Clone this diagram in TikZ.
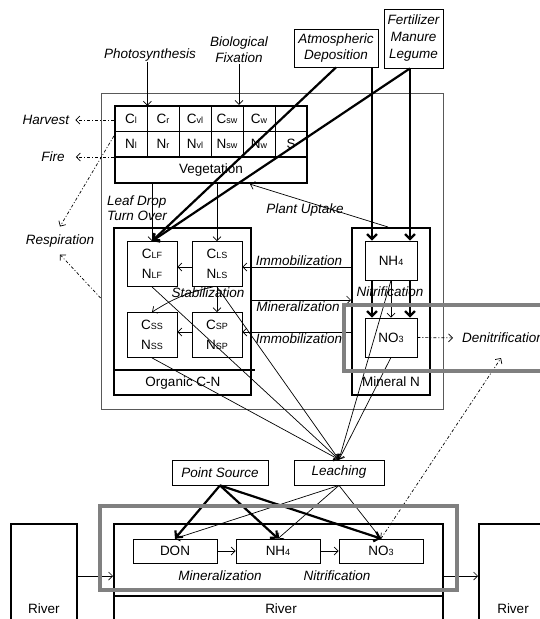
\documentclass[tikz,border=0pt]{standalone}
\usepackage{fontspec}
\setmainfont{Liberation Sans}
\usetikzlibrary{arrows.meta}
\newcommand{\lo}[1]{{\fontsize{9}{9}\selectfont #1}}

\begin{document}
\begin{tikzpicture}[x=1pt,y=-1pt,
  every node/.style={font=\fontsize{13.5}{16}\selectfont},
  txt/.style={font=\fontsize{13.5}{16}\selectfont\itshape,align=center,inner sep=1pt},
  fine/.style={line width=0.7pt},
  arr/.style={fine,-{Straight Barb[length=4pt,width=8pt]}},
  heavy/.style={line width=2.2pt,-{Straight Barb[length=5pt,width=10pt]}},
  dd/.style={line width=0.7pt,dash pattern=on 3pt off 2pt on 1pt off 2pt,-{Straight Barb[length=4pt,width=8pt]}},
  box/.style={draw,line width=0.8pt,fill=white,inner sep=0pt},
  nbox/.style={box,minimum width=50pt,minimum height=45pt,align=center},
  bigbox/.style={draw,line width=2pt,inner sep=0pt},
  cell/.style={draw,line width=0.7pt,minimum width=32pt,minimum height=25.5pt,inner sep=0pt},
  greybox/.style={draw=black!50,line width=3.5pt}]
  \useasboundingbox (0,0) rectangle (540,619);

  % land part
  \node[draw=black!65,line width=0.8pt,minimum width=342pt,minimum height=316pt] (land) at (272,251) {};

  % inputs
  \node[txt] (photo) at (150,55) {Photosynthesis};
  \node[txt] (bio) at (239,50) {Biological\\Fixation};
  \node[box,txt,minimum width=84pt,minimum height=38pt] (atmos) at (336,48) {Atmospheric\\Deposition};
  \node[box,txt,font=\fontsize{13.5}{17}\selectfont\itshape,minimum width=59pt,minimum height=59pt] (fert) at (413.5,38.5) {Fertilizer\\Manure\\Legume};

  % vegetation
  \foreach \t [count=\i] in {C\lo{l},C\lo{r},C\lo{vl},C\lo{sw},C\lo{w},{}}
    \node[cell] (c\i) at (99+32*\i,118.75) {\t};
  \foreach \t [count=\i] in {N\lo{l},N\lo{r},N\lo{vl},N\lo{sw},N\lo{w},S}
    \node[cell] (n\i) at (99+32*\i,144.25) {\t};
  \node[draw,line width=2.2pt,minimum width=192pt,minimum height=77pt] (veg) at (211,144.5) {};
  \draw[line width=2.2pt] (veg.west |- 0,157) -- (veg.east |- 0,157);
  \node (vegl) at (211,170) {Vegetation};
  \draw[arr] (photo.south -| c1.east) -- (c1.north east);
  \draw[arr] (bio.south) -- (bio.south |- veg.north);

  % losses
  \node[txt] (harv) at (46,120) {Harvest};
  \node[txt] (fire) at (53,157) {Fire};
  \node[txt] (resp) at (60,241) {Respiration};
  \draw[dd,shorten >=5pt] (veg.west |- harv) -- (harv.east);
  \draw[dd,shorten >=10pt] (veg.west |- fire) -- (fire.east);
  \draw[dd] (veg.west |- 0,136) -- ([yshift=7pt]resp.north);
  \draw[dd] (land.west |- 0,298) -- ([yshift=-6pt]resp.south);

  % organic C-N
  \node[bigbox,minimum width=137pt,minimum height=167pt] (org) at (182.5,311.5) {};
  \draw[line width=2pt] (org.west |- 0,370) -- (255,370);
  \node (orgl) at (183,383) {Organic C-N};
  \node[nbox] (clf) at (152,264) {C\lo{LF}\\[4pt]N\lo{LF}};
  \node[nbox] (cls) at (217,264) {C\lo{LS}\\[4pt]N\lo{LS}};
  \node[nbox] (css) at (152,335) {C\lo{SS}\\[4pt]N\lo{SS}};
  \node[nbox] (csp) at (217,335) {C\lo{SP}\\[4pt]N\lo{SP}};
  \node[txt,align=left,anchor=west,font=\fontsize{13.5}{15}\selectfont\itshape] (leaf) at (106,208) {Leaf Drop\\Turn Over};
  \draw[arr] (veg.south -| clf.north) -- (clf.north);
  \draw[arr] (veg.south -| cls.north) -- (cls.north);
  \node[txt] (stab) at (208,293) {Stabilization};
  \draw[arr] (cls.south) -- (csp.north);
  \draw[arr] ([xshift=-4pt]cls.south) to[bend right=10] (css.north);

  % mineral N
  \node[bigbox,minimum width=78pt,minimum height=167pt] (mine) at (391,311.5) {};
  \node[box,minimum width=52pt,minimum height=39pt] (nh4) at (391,260.5) {NH\lo{4}};
  \node[box,minimum width=52pt,minimum height=39pt] (no3) at (391,337.5) {NO\lo{3}};
  \node (minl) at (391,382) {Mineral N};
  \node[txt] (nitr) at (390,292) {Nitrification};
  \draw[arr] (nh4.south) -- (no3.north);

  % deposition and fertilizer
  \coordinate (av) at ([xshift=36pt]atmos.south);
  \coordinate (fv) at ([xshift=-3.5pt]fert.south);
  \draw[heavy] (atmos.south) -- (clf.north);
  \draw[heavy] (fv) -- (clf.north);
  \foreach \s in {av,fv} {
    \draw[heavy] (\s) -- (\s |- nh4.north);
    \draw[heavy] (\s |- nh4.south) -- (\s |- no3.north);
  }

  % exchanges
  \draw[arr] ([xshift=-3pt]mine.north) -- ([xshift=39pt]veg.south);
  \node[txt] (upt) at (305,210) {Plant Uptake};
  \draw[arr] (mine.west |- 0,267) -- (cls.east |- 0,267);
  \draw[arr] (cls.west |- 0,267) -- (clf.east |- 0,267);
  \node[txt] (imm1) at (299,261) {Immobilization};
  \draw[arr] (org.east |- 0,300) -- (mine.west |- 0,300);
  \node[txt] (minz) at (298,307) {Mineralization};
  \draw[arr] (mine.west |- 0,332) -- (csp.east |- 0,332);
  \draw[arr] (csp.west |- 0,332) -- (css.east |- 0,332);
  \node[txt] (imm2) at (299,339) {Immobilization};

  % leaching and point source
  \node[box,txt,minimum width=90pt,minimum height=25pt] (leach) at (339,472.5) {Leaching};
  \node[box,txt,minimum width=96pt,minimum height=25pt] (psrc) at (220,472.5) {Point Source};
  \foreach \s in {clf,cls,css,nh4,no3}
    \draw[arr] (\s.south) -- (leach.north);

  % river
  \node[bigbox,minimum width=329pt,minimum height=116pt] (riv) at (278.5,582) {};
  \draw[line width=2pt] (riv.west |- 0,596) -- (riv.east |- 0,596);
  \node (rivl) at (281,609) {River};
  \node[bigbox,minimum width=66pt,minimum height=116pt] (lriv) at (44,582) {};
  \node (lrivl) at (44,609) {River};
  \node[bigbox,minimum width=82pt,minimum height=116pt] (rriv) at (520,582) {};
  \node (rrivl) at (513,609) {River};
  \draw[arr] (lriv.east |- 0,576) -- (riv.west |- 0,576);
  \draw[arr] (riv.east |- 0,576) -- (rriv.west |- 0,576);
  \node[box,minimum width=84pt,minimum height=24pt] (don) at (175,551) {DON};
  \node[box,minimum width=84pt,minimum height=24pt] (nhb) at (278,551) {NH\lo{4}};
  \node[box,minimum width=84pt,minimum height=24pt] (nob) at (381,551) {NO\lo{3}};
  \draw[arr] (don) -- (nhb);
  \draw[arr] (nhb) -- (nob);
  \node[txt] (rminz) at (220,576) {Mineralization};
  \node[txt] (rnitr) at (337,576) {Nitrification};
  \foreach \t in {don,nhb,nob} {
    \draw[heavy] (psrc.south) -- (\t.north);
    \draw[arr] (leach.south) -- (\t.north);
  }

  % denitrification
  \node[txt,anchor=west] (denit) at (461,338) {Denitrification};
  \coordinate (dnin) at (501,358);
  \draw[dd,shorten >=8pt] (no3.east) -- (denit.west);
  \draw[dd] (nob.north) -- (dnin);

  % highlighted parts
  \draw[greybox] (344,305) rectangle (548,371);
  \draw[greybox] (100,506) rectangle (457,590);
\end{tikzpicture}
\end{document}
